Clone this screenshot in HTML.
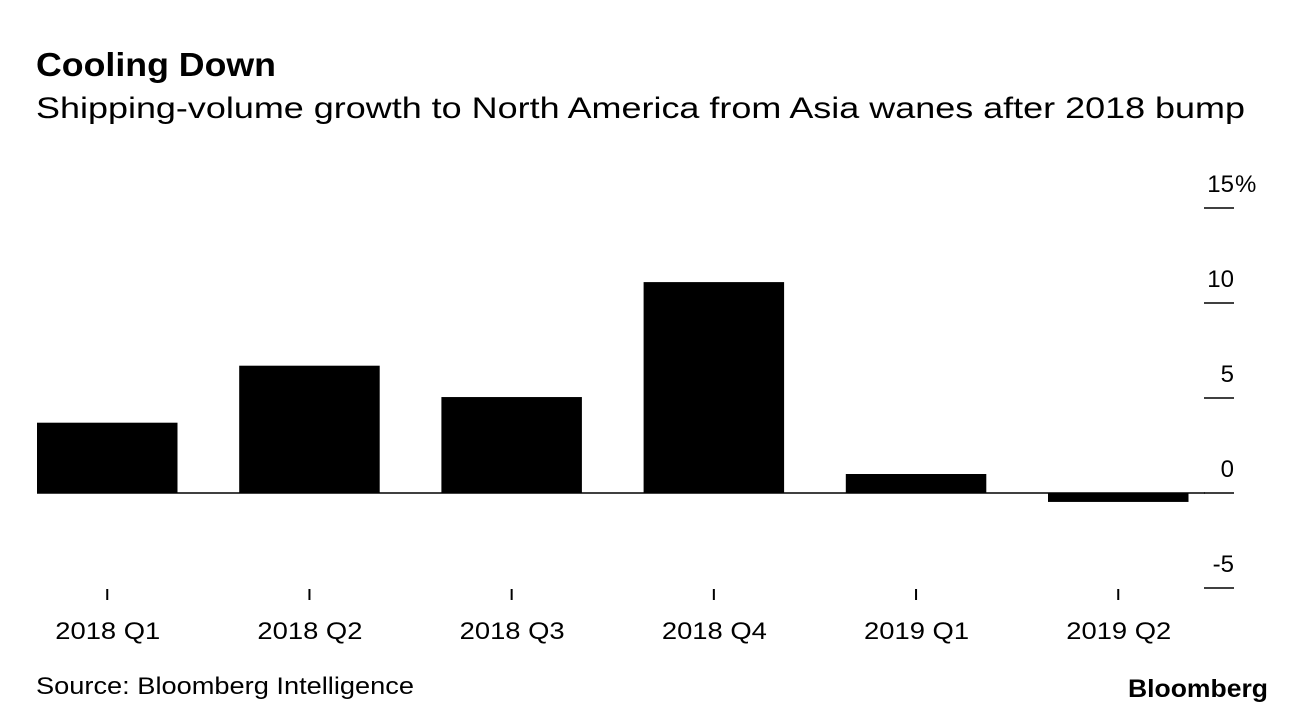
<!DOCTYPE html>
<html><head><meta charset="utf-8"><style>
body{margin:0;background:#fff;font-family:"Liberation Sans",sans-serif;}
svg{display:block}
</style></head><body>
<svg width="1296" height="714" xmlns="http://www.w3.org/2000/svg">
<text x="36" y="76" font-size="33" font-weight="bold" fill="#000" textLength="240" lengthAdjust="spacingAndGlyphs">Cooling Down</text>
<text x="36" y="118" font-size="30" fill="#000" textLength="1209" lengthAdjust="spacingAndGlyphs">Shipping-volume growth to North America from Asia wanes after 2018 bump</text>
<g id="plot"></g>
<text x="36" y="694" font-size="24" fill="#000" textLength="378" lengthAdjust="spacingAndGlyphs">Source: Bloomberg Intelligence</text>
<text x="1128" y="697" font-size="25" font-weight="bold" fill="#000" textLength="140" lengthAdjust="spacingAndGlyphs">Bloomberg</text>
</svg>
<script>
const categories=["2018 Q1","2018 Q2","2018 Q3","2018 Q4","2019 Q1","2019 Q2"];
const values=[3.7,6.7,5.05,11.1,1.0,-0.47];
const yTicks=[15,10,5,0,-5];
const yTickLabels=["15","10","5","0","-5"];
const NS="http://www.w3.org/2000/svg";
const g=document.getElementById('plot');
const y=v=>493-v*19;
const x0=37,step=202.2,bw=140.5;
function mk(t,a){const e=document.createElementNS(NS,t);for(const k in a)e.setAttribute(k,a[k]);g.appendChild(e);return e;}
yTicks.forEach((t,i)=>{
 const l=mk('line',{x1:1204,x2:1234,y1:y(t),y2:y(t),stroke:'#000','stroke-width':1.5});
 
 
 const tx=mk('text',{x:1234,y:y(t)-16,'font-size':24,'text-anchor':'end',fill:'#000'});
 tx.textContent=yTickLabels[i];
 
 
 if(i===0){
  const p=mk('text',{x:1235,y:y(t)-16,'font-size':24,fill:'#000'});
  p.textContent='%';
  
  
 }
});
values.forEach((v,i)=>{
 const bx=x0+i*step;
 const r=mk('rect',{x:bx,y:Math.min(y(v),y(0)),width:bw,height:Math.abs(y(v)-y(0)),fill:'#000'});
 
 
 const cx=bx+bw/2;
 const tk=mk('line',{x1:cx,x2:cx,y1:589,y2:600,stroke:'#000','stroke-width':2});
 
 
 const lb=mk('text',{x:cx-52,y:639,'font-size':24,fill:'#000',textLength:105,lengthAdjust:'spacingAndGlyphs'});
 lb.textContent=categories[i];
 
 
});
const z=mk('line',{x1:37,x2:1205,y1:y(0),y2:y(0),stroke:'#000','stroke-width':1.5});


</script>
</body></html>
